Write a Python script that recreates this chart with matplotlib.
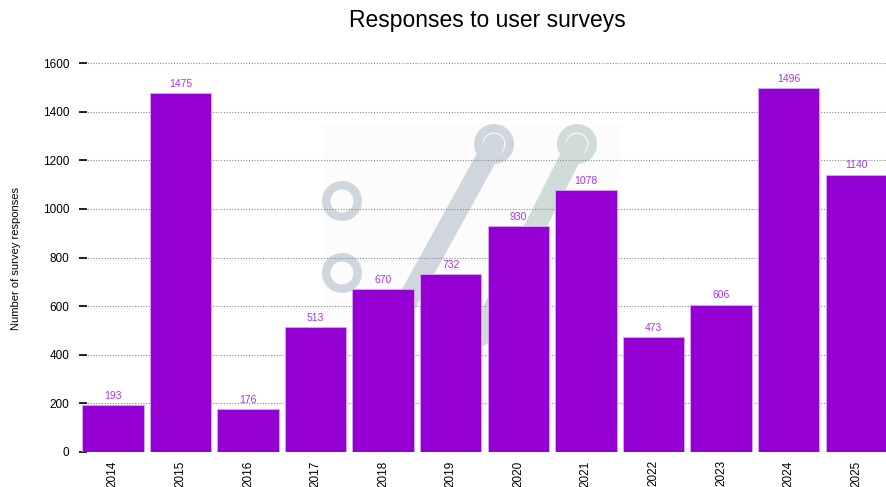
import matplotlib
matplotlib.use("Agg")
import matplotlib.pyplot as plt
from matplotlib.patches import Circle, Rectangle

years = ["2014", "2015", "2016", "2017", "2018", "2019",
         "2020", "2021", "2022", "2023", "2024", "2025"]
responses = [193, 1475, 176, 513, 670, 732, 930, 1078, 473, 606, 1496, 1140]
y_ticks = [0, 200, 400, 600, 800, 1000, 1200, 1400, 1600]

bar_color = "#9400d3"
label_color = "#a838e6"

plt.rcParams["font.family"] = ["Liberation Sans", "DejaVu Sans"]

W, H = 886, 487
fig = plt.figure(figsize=(W / 100, H / 100), dpi=100)

# faint logo in the background, laid out in pixel units
bg = fig.add_axes([0, 0, 1, 1], zorder=0)
bg.set_xlim(0, W)
bg.set_ylim(H, 0)
bg.axis("off")
bg.add_patch(Rectangle((322, 125), 300, 300, color="#fcfcfc", lw=0))
c1, c2 = "#cfd6de", "#cfdcd8"
bg.plot([494, 398], [144, 318], color=c1, lw=15, solid_capstyle="round")
bg.plot([577, 480], [144, 336], color=c2, lw=15, solid_capstyle="round")
for (cx, cy), col in [((494, 144), c1), ((577, 144), c2),
                      ((342, 201), c1), ((342, 273), c1)]:
    bg.add_patch(Circle((cx, cy), 20, color=col, lw=0))
    bg.add_patch(Circle((cx, cy), 11.5, color="#fcfcfc", lw=0))

left, right, bottom, top = 79, 886, 452, 63
ax = fig.add_axes([left / W, (H - bottom) / H, (right - left) / W, (bottom - top) / H], zorder=1)
ax.patch.set_alpha(0)

x = range(len(years))
bars = ax.bar(x, responses, width=0.91, color=bar_color,
              edgecolor="#d6a4f0", linewidth=0.7, zorder=3)
for xi, v in zip(x, responses):
    ax.text(xi, v + 18, str(v), ha="center", va="bottom",
            fontsize=7.5, color=label_color, zorder=4)

ax.set_xlim(-0.5, 11.44)
ax.set_ylim(0, 1600)
ax.set_yticks(y_ticks)
ax.set_xticks(list(x))
ax.set_xticklabels(years, rotation=90, fontsize=8.5)
ax.tick_params(axis="y", direction="in", length=6, width=1.2, pad=7, labelsize=8.5)
ax.tick_params(axis="x", length=0, pad=6)
ax.grid(axis="y", linestyle=(0, (1, 1.5)), color="#8a8a8a", linewidth=0.8, zorder=1)
ax.set_axisbelow(True)
for s in ax.spines.values():
    s.set_visible(False)

fig.text(16 / W, 1 - 258 / H, "Number of survey responses", rotation=90,
         ha="center", va="center", fontsize=8)
fig.text(487 / W, 1 - 20 / H, "Responses to user surveys", ha="center", va="center", fontsize=16.5)

fig.savefig("out.png", dpi=100)
